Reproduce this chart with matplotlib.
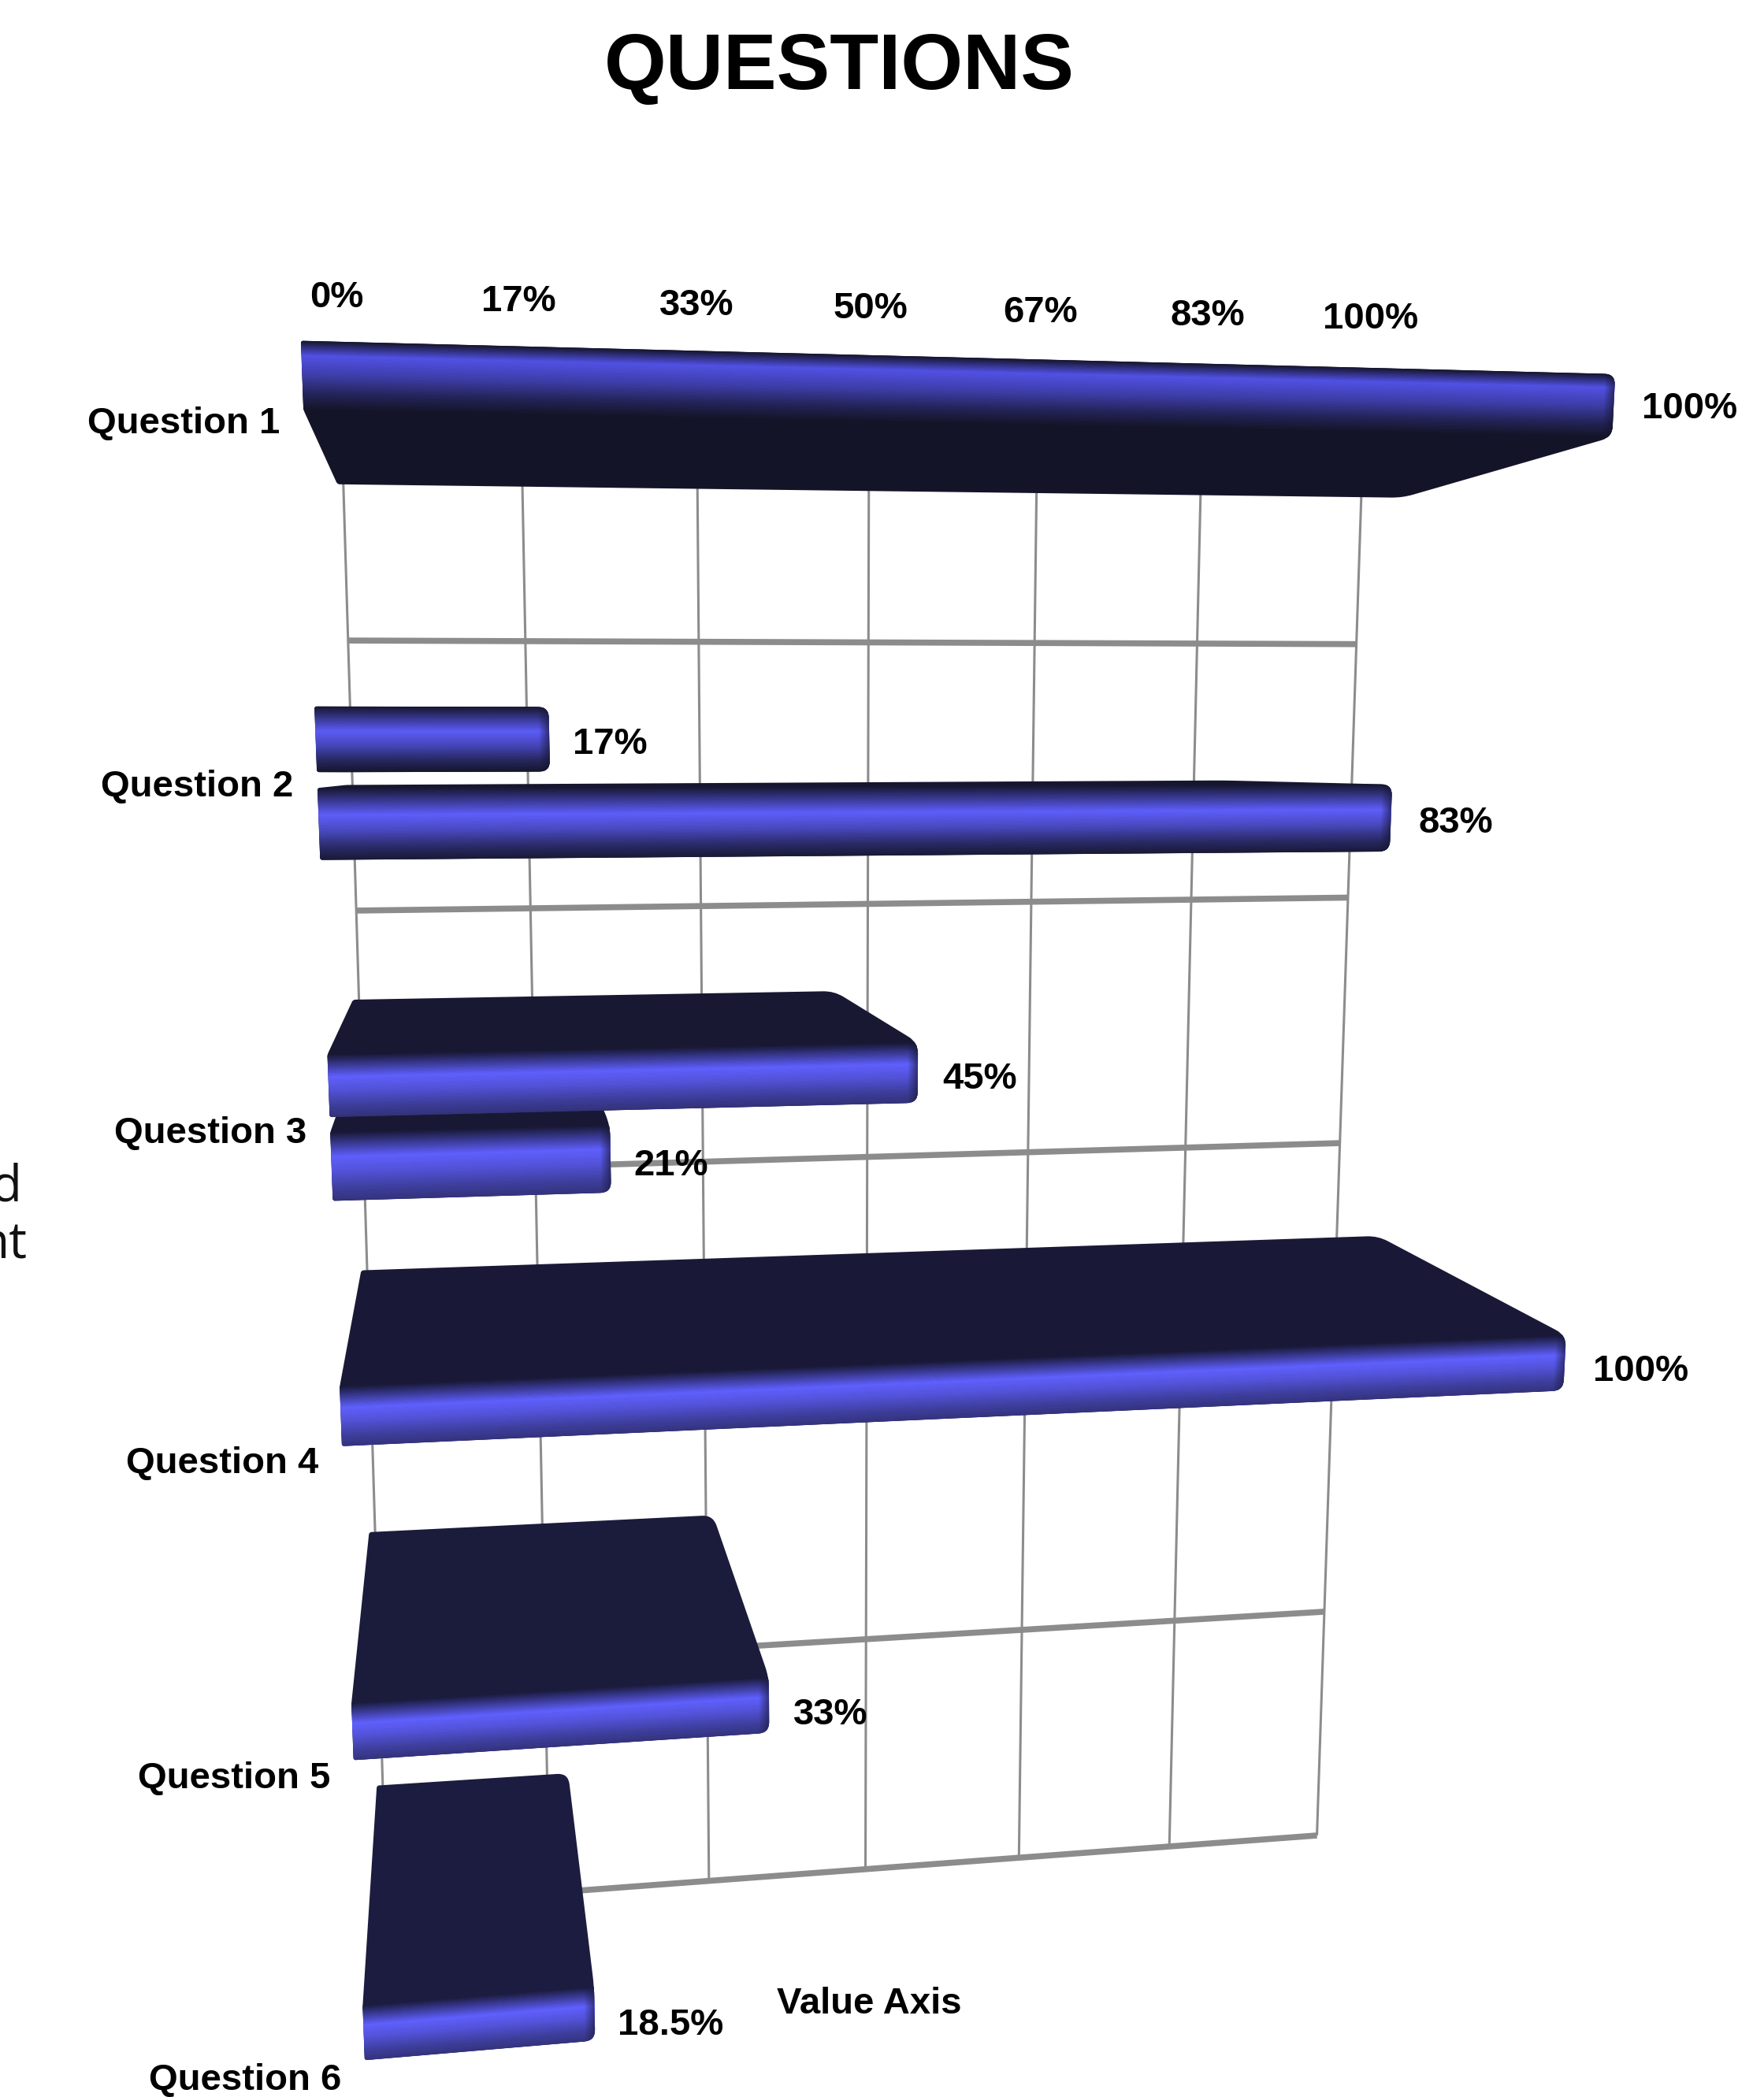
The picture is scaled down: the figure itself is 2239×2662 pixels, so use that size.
import numpy as np
import matplotlib
matplotlib.use("Agg")
import matplotlib.pyplot as plt
from matplotlib.collections import PolyCollection
from matplotlib.patches import PathPatch
from matplotlib.path import Path
from matplotlib.colors import to_rgb

# ---- data ----
title = "QUESTIONS"
categories = ["Question 1", "Question 2", "Question 3", "Question 4", "Question 5", "Question 6"]
series_upper = [100, 17, 45, 100, 33, 18.5]
series_lower = [None, 83, 21, None, None, None]
upper_labels = ["100%", "17%", "45%", "100%", "33%", "18.5%"]
lower_labels = [None, "83%", "21%", None, None, None]
tick_values = [0, 16.67, 33.33, 50, 66.67, 83.33, 100]
tick_labels = ["0%", "17%", "33%", "50%", "67%", "83%", "100%"]
axis_title = "Value Axis"

# ---- scene geometry (perspective of the 3-D chart) ----
W, H = 2239, 2662
K = 1.697
src = [(0, 0), (100, 0), (100, 6), (0, 6)]
wall = [(254, 270), (1021, 286), (985, 1373), (289, 1425)]
face = [(222, 173), (1212, 205), (1142, 1573), (277, 1655)]
VP = np.array([357.0, 540.0]) * K
D_BACK = 1.047
SLOT_U, SLOT_L = (0.29, 0.475), (0.52, 0.725)


def homography(a, b):
    A, y = [], []
    for (u, v), (x, yy) in zip(a, b):
        A.append([u, v, 1, 0, 0, 0, -u * x, -v * x]); y.append(x)
        A.append([0, 0, 0, u, v, 1, -u * yy, -v * yy]); y.append(yy)
    return np.append(np.linalg.solve(np.array(A, float), np.array(y, float)), 1).reshape(3, 3)


HM_WALL = homography(src, [(x * K, y * K) for x, y in wall])
HM_FACE = homography(src, [(x * K, y * K) for x, y in face])


def project(v, r, depth=1.0):
    p = HM_WALL @ np.array([v, r, 1.0])
    xy = p[:2] / p[2]
    return VP + depth * (xy - VP)


def project_face(v, r):
    p = HM_FACE @ np.array([v, r, 1.0])
    return p[:2] / p[2]


def hull(points):
    pts = sorted(map(tuple, points))
    def half(seq):
        out = []
        for q in seq:
            while len(out) > 1 and np.cross(np.subtract(out[-1], out[-2]), np.subtract(q, out[-2])) <= 0:
                out.pop()
            out.append(q)
        return out[:-1]
    return half(pts) + half(pts[::-1])


def rounded_path(poly):
    n = len(poly)
    xm = np.mean([p[0] for p in poly])
    verts, codes = [], []
    for i in range(n):
        p0, p1, p2 = map(np.array, (poly[i - 1], poly[i], poly[(i + 1) % n]))
        radius = 14 if p1[0] > xm else 3
        d0, d1 = p0 - p1, p2 - p1
        l0, l1 = np.linalg.norm(d0), np.linalg.norm(d1)
        a = p1 + d0 / l0 * min(radius, l0 * .4)
        b = p1 + d1 / l1 * min(radius, l1 * .4)
        verts += [a, p1, b]
        codes += [Path.LINETO if i else Path.MOVETO, Path.CURVE3, Path.CURVE3]
    verts.append(verts[0]); codes.append(Path.CLOSEPOLY)
    return Path(np.array(verts), codes)


def mix(c0, c1, t):
    t = float(np.clip(t, 0, 1))
    return tuple((1 - t) * np.array(to_rgb(c0)) + t * np.array(to_rgb(c1)))


fig = plt.figure(figsize=(W / 100, H / 100), dpi=100, facecolor="white")
ax = fig.add_axes([0, 0, 1, 1])
ax.set_xlim(0, W); ax.set_ylim(H, 0); ax.axis("off")
plt.rcParams["font.family"] = ["Liberation Sans", "DejaVu Sans"]

GRID = "#8c8c8c"
for v in tick_values:
    a, b = project(v, 0), project(v, 6)
    ax.plot([a[0], b[0]], [a[1], b[1]], color=GRID, lw=2.2, zorder=1, solid_capstyle="butt")
for r in range(len(categories) + 1):
    a, b = project(0, r), project(100, r)
    ax.plot([a[0], b[0]], [a[1], b[1]], color=GRID, lw=5.5, zorder=1, solid_capstyle="butt")


def draw_bar(row, value, slot, z):
    r0, r1 = row + slot[0], row + slot[1]
    back = [project(v, r, D_BACK) for v, r in ((0, r0), (value, r0), (value, r1), (0, r1))]
    front = [project_face(v, r) for v, r in ((0, r0), (value, r0), (value, r1), (0, r1))]
    yc = (front[0][1] + front[3][1]) / 2
    pos = (yc - VP[1]) / 900
    dark = mix("#141428", "#1c1c40", (yc - 400) / 2200)
    hi = mix("#5252e6", "#6060ff", (yc - 500) / 600)
    end = mix(dark, "#34347f", (yc - 1000) / 400)
    peak = 0.22 if pos < -0.2 else 0.38 if pos < 0.45 else 0.36
    stops = [0, peak, peak + (1 - peak) * .35, peak + (1 - peak) * .72, 1]
    cols = [dark, hi, mix(hi, end, .3), mix(hi, end, .75), end]

    path = rounded_path(hull(back + front))
    patch = PathPatch(path, fc=dark, ec="none", zorder=z)
    ax.add_patch(patch)

    n = 70
    ts = np.linspace(0, 1, n + 1)
    tl, tr, br, bl = front[0], front[1], front[2], front[3]
    quads, colors = [], []
    for t0, t1 in zip(ts[:-1], ts[1:]):
        quads.append([tl + (bl - tl) * t0, tr + (br - tr) * t0, tr + (br - tr) * t1, tl + (bl - tl) * t1])
        tm = (t0 + t1) / 2
        colors.append([np.interp(tm, stops, [c[k] for c in cols]) for k in range(3)])
    pc = PolyCollection(quads, facecolors=colors, edgecolors=colors, linewidths=0.6, zorder=z + .1)
    ax.add_collection(pc)
    pc.set_clip_path(patch)

    # darkened roll-off at the right end of the face
    strips, alphas = [], []
    w = 12
    for i in range(6):
        x0, x1 = w * (6 - i) / 6, w * (5 - i) / 6
        shift0, shift1 = np.array([x0, 0]), np.array([x1, 0])
        strips.append([tr - shift0, tr - shift1, br - shift1, br - shift0])
        alphas.append((dark[0], dark[1], dark[2], 0.10 * (i + 1)))
    pe = PolyCollection(strips, facecolors=alphas, edgecolors="none", zorder=z + .2)
    ax.add_collection(pe)
    pe.set_clip_path(patch)

    return (tr + br) / 2


anchors = []
z = 2
for i in range(len(categories)):
    if series_lower[i] is not None:
        anchors.append((draw_bar(i, series_lower[i], SLOT_L, z), lower_labels[i], series_lower[i], i))
        z += 1
    anchors.append((draw_bar(i, series_upper[i], SLOT_U, z), upper_labels[i], series_upper[i], i))
    z += 1

FS = 34
for pt, lab, val, row in anchors:
    ax.text(pt[0] + 28 + 0.08 * val, pt[1] + 4 + 2.2 * row, lab, ha="left", va="center",
            fontsize=FS, fontweight="bold", color="black", zorder=50)

for v, lab in zip(tick_values, tick_labels):
    p = project(v, 0)
    x = p[0] + 0.0085 * (p[0] - 640 * K) + 1.5
    ax.text(x, p[1] - 80, lab, ha="center", va="center", fontsize=FS, fontweight="bold", zorder=50)

for i, lab in enumerate(categories):
    p = project_face(0, i + 0.5)
    ax.text(p[0] - 30, p[1] + 6 + 2 * i, lab, ha="right", va="center", fontsize=FS, fontweight="bold", zorder=50)

ax.text(628 * K, 51 * K, title, ha="center", va="center", fontsize=73, fontweight="bold")
ax.text(650 * K, 1499 * K, axis_title, ha="center", va="center", fontsize=FS, fontweight="bold")
ax.text(28, 888.5 * K, "d", ha="right", va="center", fontsize=46, family=["Open Sans", "DejaVu Sans"], color="#111111")
ax.text(34, 931.5 * K, "nt", ha="right", va="center", fontsize=46, family=["Open Sans", "DejaVu Sans"], color="#111111")

fig.savefig("out.png", dpi=100, facecolor="white")
